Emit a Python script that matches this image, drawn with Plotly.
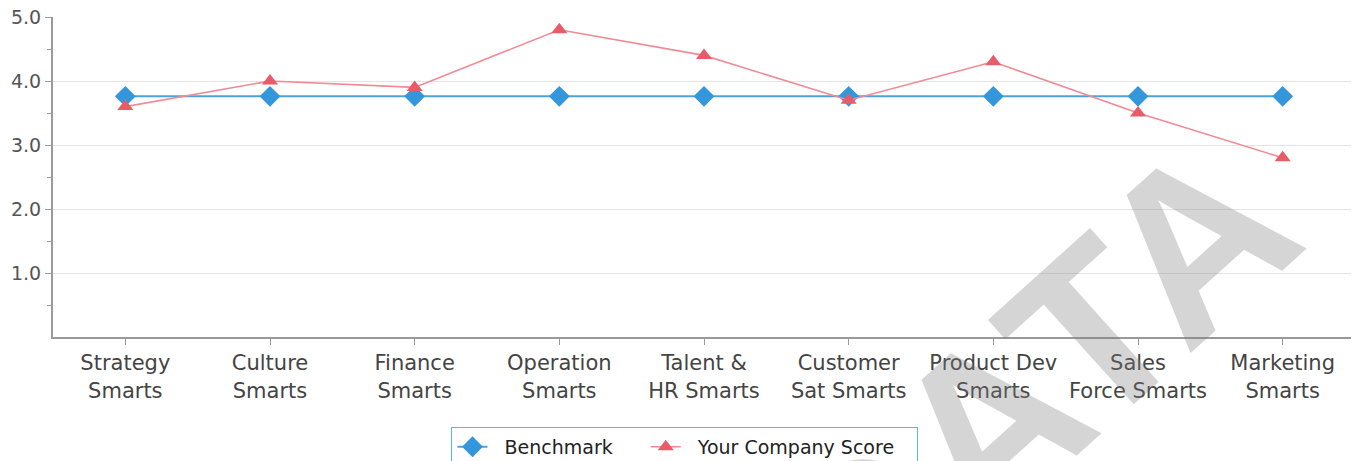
import plotly.graph_objects as go

categories = ["Strategy<br>Smarts", "Culture<br>Smarts", "Finance<br>Smarts",
              "Operation<br>Smarts", "Talent &<br>HR Smarts", "Customer<br>Sat Smarts",
              "Product Dev<br>Smarts", "Sales<br>Force Smarts", "Marketing<br>Smarts"]
benchmark = [3.76, 3.76, 3.76, 3.76, 3.76, 3.76, 3.76, 3.76, 3.76]
company = [3.6, 4.0, 3.9, 4.8, 4.4, 3.7, 4.3, 3.5, 2.8]
y_ticks = [1, 2, 3, 4, 5]
y_ticktext = ["1.0", "2.0", "3.0", "4.0", "5.0"]
y_minor = [0.5, 1.5, 2.5, 3.5, 4.5]

NB = "\u00a0\u00a0"
TRAIL = "\u00a0\u00a0\u00a0\u00a0\u2009"
TRAIL2 = "\u00a0\u00a0\u00a0"

fig = go.Figure()
fig.add_trace(go.Scatter(
    x=categories, y=benchmark, name=NB + "Benchmark" + TRAIL, mode="lines+markers",
    line=dict(color="#4ba3e0", width=2),
    marker=dict(symbol="diamond", size=16, color="#3497db"),
))
fig.add_trace(go.Scatter(
    x=categories, y=company, name=NB + "Your Company Score" + TRAIL2, mode="lines+markers",
    line=dict(color="#f08a93", width=1.6),
    marker=dict(symbol="triangle-up", size=14, color="#e85c69"),
))

fig.add_annotation(
    text="<b>DATA</b>", xref="paper", yref="paper", x=0.750, y=-0.162,
    xanchor="center", yanchor="middle",
    showarrow=False, textangle=-42,
    font=dict(family="Liberation Sans", size=233, color="rgba(128,128,128,0.33)"),
)

fig.update_layout(
    width=1359, height=461,
    margin=dict(l=45, r=12, t=9, b=132, autoexpand=False),
    paper_bgcolor="white", plot_bgcolor="white",
    showlegend=True,
    legend=dict(
        orientation="h", x=0.4854, xanchor="center", y=-0.281, yanchor="top",
        bordercolor="#4cc3d3", borderwidth=1,
        font=dict(family="DejaVu Sans", size=19, color="#222"),
        itemwidth=30,
    ),
    xaxis=dict(
        range=[-0.5, 8.5], showgrid=False,
        showline=True, linecolor="#999", linewidth=2,
        ticks="outside", ticklen=6, tickcolor="#999", tickwidth=1,
        tickfont=dict(family="DejaVu Sans", size=21, color="#444"),
    ),
    yaxis=dict(
        range=[0, 5], tickvals=y_ticks, ticktext=y_ticktext,
        showgrid=True, gridcolor="#e4e4e4", gridwidth=1,
        showline=True, linecolor="#999", linewidth=2,
        ticks="outside", ticklen=6, tickcolor="#999", tickwidth=1,
        tickfont=dict(family="DejaVu Sans", size=19, color="#555"),
        ticklabeloverflow="allow",
        zeroline=False,
        minor=dict(tickvals=y_minor, ticks="outside", ticklen=4, tickcolor="#999", showgrid=False),
    ),
)

fig.write_html("out.html")
